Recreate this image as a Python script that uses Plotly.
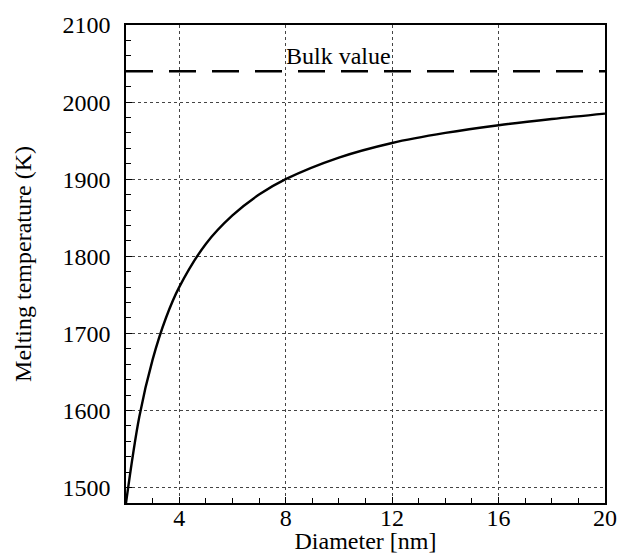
import plotly.graph_objects as go

diameter_nm = [2, 2.5, 3, 3.5, 4, 5, 6, 7, 8, 10, 12, 14, 16, 18, 20]
melting_K = [1480, 1592, 1666, 1720, 1760, 1816, 1853, 1880, 1900, 1928, 1947, 1960, 1970, 1978, 1985]
bulk_x = [2, 20]
bulk_K = [2040, 2040]
x_ticks = [4, 8, 12, 16, 20]
y_ticks = [1500, 1600, 1700, 1800, 1900, 2000, 2100]

FONT = "Liberation Serif"

fig = go.Figure()
fig.add_trace(go.Scatter(x=bulk_x, y=bulk_K, mode="lines",
                         line=dict(color="black", width=2.4, dash="27px,16px"),
                         showlegend=False, hoverinfo="skip"))
fig.add_trace(go.Scatter(x=diameter_nm, y=melting_K, mode="lines",
                         line=dict(color="black", width=2.4, shape="spline", smoothing=1.0),
                         showlegend=False))

fig.add_annotation(x=8, y=2040, text="Bulk value", showarrow=False,
                   xanchor="left", yanchor="bottom", xshift=-2, yshift=0,
                   font=dict(family=FONT, size=24, color="black"))

axis_common = dict(showline=True, linecolor="black", linewidth=1.5, mirror=True,
                   ticks="inside", ticklen=6, tickwidth=1, tickcolor="black",
                   showgrid=True, gridcolor="#444444", gridwidth=1, griddash="dot",
                   zeroline=False, automargin=False,
                   tickfont=dict(family=FONT, size=24, color="black"))

fig.update_xaxes(range=[2, 20], tickvals=x_ticks, ticktext=[str(v) for v in x_ticks],
                 minor=dict(ticks="inside", dtick=1, tick0=0, ticklen=5, tickcolor="black", showgrid=False),
                 ticklabelstandoff=-8,
                 title=dict(text="Diameter [nm]", font=dict(family=FONT, size=24, color="black"), standoff=8),
                 **axis_common)
fig.update_yaxes(range=[1480, 2100], tickvals=y_ticks, ticktext=[str(v) for v in y_ticks],
                 minor=dict(ticks="inside", dtick=20, tick0=0, ticklen=5, tickcolor="black", showgrid=False),
                 ticklabelstandoff=9,
                 title=dict(text="Melting temperature (K)", font=dict(family=FONT, size=24, color="black"), standoff=24),
                 **axis_common)

fig.update_layout(width=618, height=554, margin=dict(l=126, r=13, t=25, b=51),
                  plot_bgcolor="white", paper_bgcolor="white",
                  font=dict(family=FONT, color="black"))

fig.write_html("out.html", config={"displayModeBar": False},
               post_script="document.body.style.margin='0';document.body.style.overflow='hidden';")
